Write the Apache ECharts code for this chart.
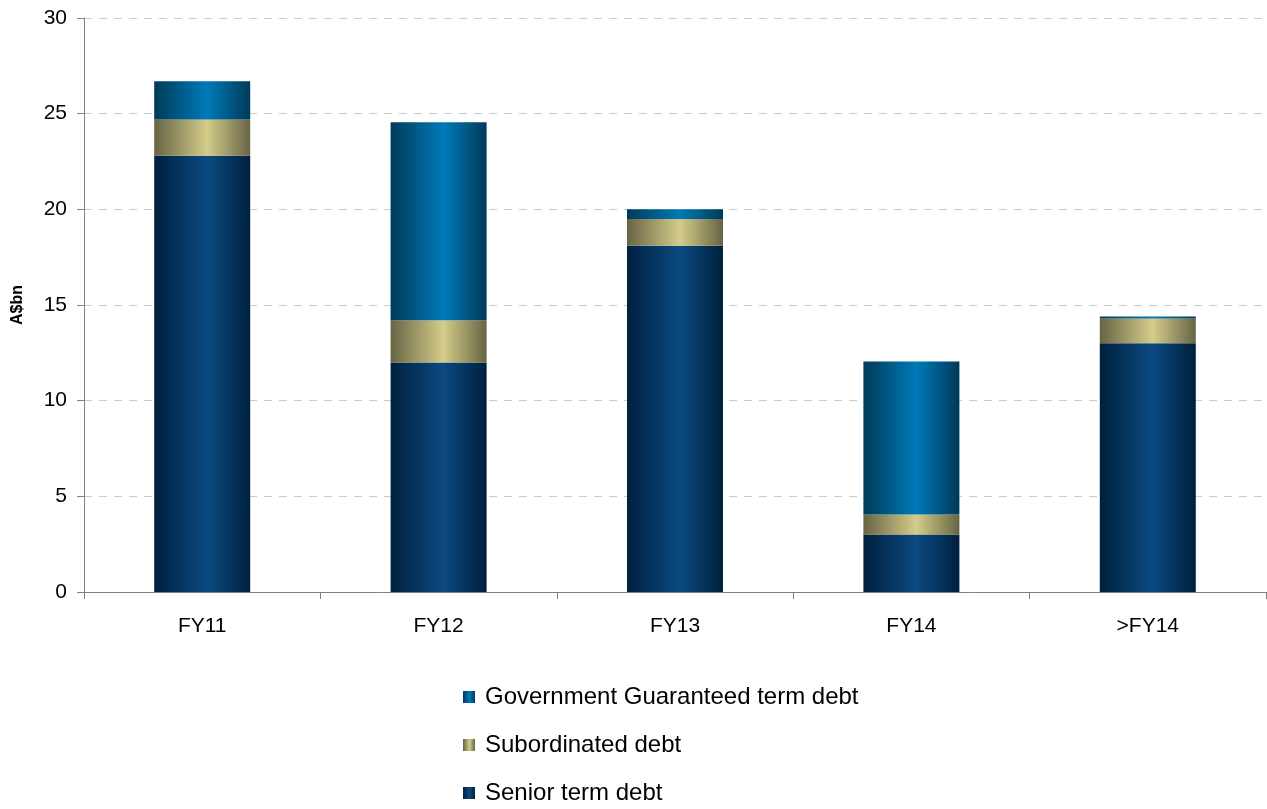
<!DOCTYPE html>
<html><head><meta charset="utf-8">
<script src="https://cdn.jsdelivr.net/npm/echarts@6/dist/echarts.min.js"></script>
<style>html,body{margin:0;padding:0;background:#fff}#c{width:1267px;height:809px}</style>
</head><body><div id="c"></div>
<script>
const categories = ['FY11', 'FY12', 'FY13', 'FY14', '>FY14'];
const seniorDebt = [22.8, 12.0, 18.1, 3.0, 13.0];
const subordinatedDebt = [1.9, 2.2, 1.4, 1.05, 1.3];
const govGuaranteedDebt = [2.0, 10.35, 0.5, 8.0, 0.1];
const yTicks = [0, 5, 10, 15, 20, 25, 30];

function grad(edge, mid) {
  return new echarts.graphic.LinearGradient(0, 0, 1, 0, [
    {offset: 0, color: edge}, {offset: 0.55, color: mid}, {offset: 1, color: edge}
  ]);
}
const fontFam = '"Liberation Sans", Arial, sans-serif';
const chart = echarts.init(document.getElementById('c'), null, {renderer: 'canvas'});
chart.setOption({
  animation: false,
  textStyle: {fontFamily: fontFam},
  grid: {left: 84, right: 1, top: 18, bottom: 217, containLabel: false},
  legend: {
    orient: 'vertical', left: 463, top: 685, height: 130, padding: 0, itemGap: 24,
    itemWidth: 12, itemHeight: 12, icon: 'rect',
    textStyle: {fontSize: 24, color: '#000', fontFamily: fontFam, padding: [0, 0, 0, 5]},
    data: ['Government Guaranteed term debt', 'Subordinated debt', 'Senior term debt']
  },
  xAxis: {
    type: 'category', data: categories,
    axisLine: {lineStyle: {color: '#808080', width: 1}},
    axisTick: {show: true, length: 7, lineStyle: {color: '#808080'}},
    axisLabel: {fontSize: 21, color: '#000', margin: 24}
  },
  yAxis: {
    type: 'value', min: yTicks[0], max: yTicks[yTicks.length - 1], interval: 5,
    name: 'A$bn', nameLocation: 'middle', nameGap: 58,
    nameTextStyle: {fontSize: 16, fontWeight: 'bold', color: '#000'},
    axisLine: {show: true, lineStyle: {color: '#808080'}},
    axisTick: {show: true, length: 7, lineStyle: {color: '#808080'}},
    axisLabel: {fontSize: 21, color: '#000', margin: 17},
    splitLine: {lineStyle: {color: '#c4ccd4', type: [8, 7]}}
  },
  series: [
    {name: 'Senior term debt', type: 'bar', stack: 's', data: seniorDebt, barWidth: 96,
      itemStyle: {color: grad('#00203e', '#0b4a80')}},
    {name: 'Subordinated debt', type: 'bar', stack: 's', data: subordinatedDebt, barWidth: 96,
      itemStyle: {color: grad('#676444', '#d4cc8a')}},
    {name: 'Government Guaranteed term debt', type: 'bar', stack: 's', data: govGuaranteedDebt, barWidth: 96,
      itemStyle: {color: grad('#003a58', '#007ab8')}}
  ]
});
</script></body></html>
